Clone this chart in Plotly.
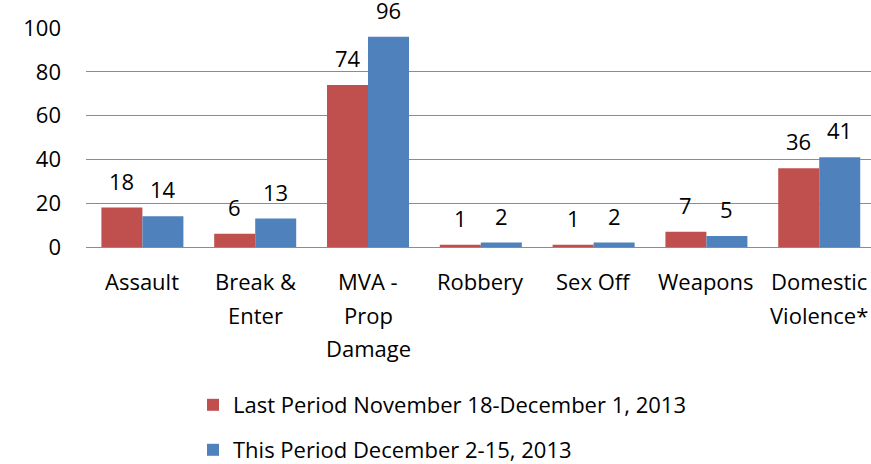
import plotly.graph_objects as go

categories = ["Assault", "Break & Enter", "MVA - Prop Damage", "Robbery", "Sex Off", "Weapons", "Domestic Violence*"]
category_lines = [["Assault"], ["Break &", "Enter"], ["MVA -", "Prop", "Damage"], ["Robbery"], ["Sex Off"], ["Weapons"], ["Domestic", "Violence*"]]
last_period = [18, 6, 74, 1, 1, 7, 36]
this_period = [14, 13, 96, 2, 2, 5, 41]
last_name = "Last Period November 18-December 1, 2013"
this_name = "This Period December 2-15, 2013"
y_ticks = [0, 20, 40, 60, 80, 100]

FONT = "'Open Sans', sans-serif"
FS = 22
W, H = 871, 464
ML, MR, MT, MB = 86, 0, 28, 217
BARGAP = 0.273
X_RANGE = [-0.5, 6.459]  # the plot area runs past the right edge of the picture
RED, BLUE = "#C0504D", "#4F81BD"

fig = go.Figure()
fig.add_trace(go.Bar(x=categories, y=last_period, name=last_name, marker_color=RED,
                     marker_line_width=0, legend="legend"))
fig.add_trace(go.Bar(x=categories, y=this_period, name=this_name, marker_color=BLUE,
                     marker_line_width=0, legend="legend2"))

# bar width in px (for centring the value labels over the grouped bars)
plot_w = W - ML - MR
plot_h = H - MT - MB
cat_w = plot_w / (X_RANGE[1] - X_RANGE[0])
bar_w = cat_w * (1 - BARGAP) / 2

annotations = []
for cat, a, b in zip(categories, last_period, this_period):
    for val, sh in ((a, -bar_w / 2), (b, bar_w / 2)):
        annotations.append(dict(x=cat, y=val, xref="x", yref="y", text=str(val), showarrow=False,
                                xanchor="center", yanchor="middle", xshift=sh, yshift=27,
                                font=dict(size=FS, color="black", family=FONT)))
for cat, lines in zip(categories, category_lines):
    for i, line in enumerate(lines):
        annotations.append(dict(x=cat, y=0, xref="x", yref="paper", text=line, showarrow=False,
                                xanchor="center", yanchor="middle", yshift=-(34 + 33.5 * i),
                                font=dict(size=FS, color="black", family=FONT)))

leg_x = (193 - ML) / plot_w
def leg_y(px):
    return -(px - (MT + plot_h)) / plot_h

fig.update_layout(
    width=W, height=H,
    margin=dict(l=ML, r=MR, t=MT, b=MB, autoexpand=False),
    plot_bgcolor="white", paper_bgcolor="white",
    font=dict(family=FONT, size=FS, color="black"),
    barmode="group", bargap=BARGAP, bargroupgap=0,
    showlegend=True,
    annotations=annotations,
    legend=dict(x=leg_x, y=leg_y(405), xanchor="left", yanchor="middle",
                font=dict(size=FS), bgcolor="rgba(0,0,0,0)"),
    legend2=dict(x=leg_x, y=leg_y(450), xanchor="left", yanchor="middle",
                 font=dict(size=FS), bgcolor="rgba(0,0,0,0)"),
)
fig.update_yaxes(range=[0, 100], tickvals=y_ticks, showgrid=True, gridcolor="#8C8C8C", gridwidth=1.2,
                 zeroline=False, showline=False, ticks="", ticklabelstandoff=24,
                 tickfont=dict(size=FS))
fig.update_xaxes(range=X_RANGE, showline=True, linecolor="#8C8C8C", linewidth=1.2, ticks="",
                 showticklabels=False)

fig.write_html("out.html", config={"displayModeBar": False},
               post_script="document.body.style.margin='0px';")
